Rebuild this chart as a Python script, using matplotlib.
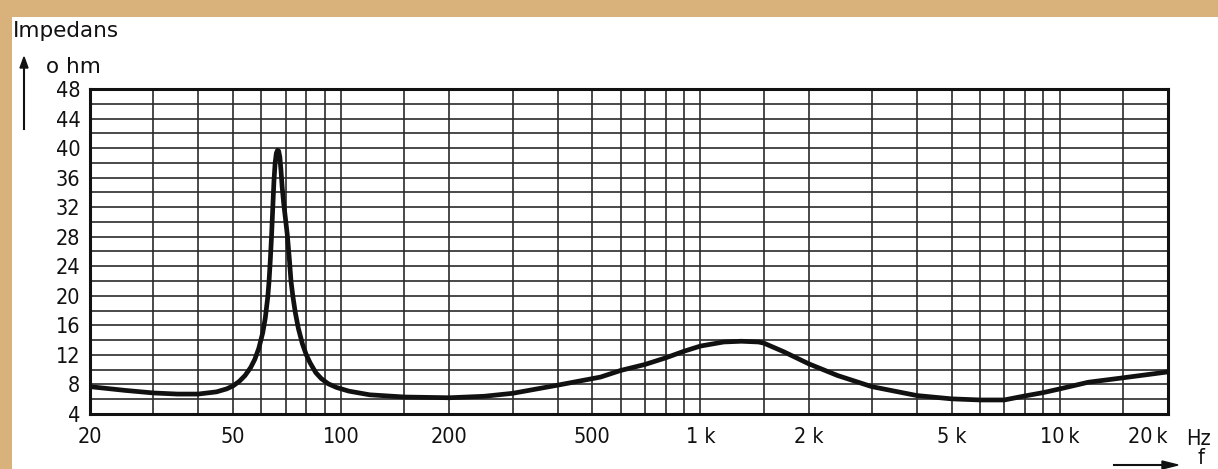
import matplotlib
matplotlib.use("Agg")
import matplotlib.pyplot as plt
from matplotlib.patches import Rectangle
from matplotlib.ticker import FixedLocator, NullFormatter

# impedance curve
freq_hz = [20, 25, 30, 35, 40, 45, 48, 50, 52, 54, 56, 57.5, 59, 60.5, 61.5, 62.5,
           63, 63.5, 64, 64.5, 65, 65.5, 66, 66.5, 67, 67.5, 68, 68.5, 69.2, 70,
           70.8, 71.8, 72.5, 73.4, 74.5, 76, 78, 80, 82, 85, 88, 92, 97, 105, 120,
           150, 200, 250, 300, 400, 527, 600, 700, 800, 900, 1000, 1160, 1300,
           1450, 1500, 1710, 2000, 2410, 3000, 4000, 5000, 6000, 7000, 8000, 9000,
           10000, 12000, 15000, 20000]
impedance_ohm = [7.7, 7.2, 6.85, 6.7, 6.7, 7.0, 7.4, 7.8, 8.4, 9.2, 10.3, 11.4, 12.9,
                 15.0, 17.0, 19.9, 22.0, 24.8, 28.0, 31.8, 35.5, 38.0, 39.3, 39.7,
                 39.6, 38.8, 37.0, 34.8, 32.5, 30.4, 28.3, 24.8, 22.0, 19.9, 17.8,
                 15.6, 13.5, 12.0, 10.9, 9.6, 8.8, 8.1, 7.6, 7.1, 6.6, 6.3, 6.2, 6.4,
                 6.8, 7.9, 9.0, 9.9, 10.7, 11.6, 12.5, 13.2, 13.75, 13.85, 13.75,
                 13.6, 12.4, 10.8, 9.2, 7.7, 6.5, 6.05, 5.9, 5.9, 6.45, 6.9, 7.4,
                 8.3, 8.9, 9.7]

x_label_pos = [20, 50, 100, 200, 500, 1000, 2000, 5000, 10000, 20000]
x_labels = ["20", "50", "100", "200", "500", "1 k", "2 k", "5 k", "10\u2009k", "20\u2009k"]
x_grid_extra = [30, 40, 60, 70, 80, 90, 150, 300, 400, 600, 700, 800, 900, 1500,
                3000, 4000, 6000, 7000, 8000, 9000, 15000]
y_label_pos = list(range(4, 49, 4))
y_grid_extra = list(range(6, 48, 4))

W, H = 1218, 469
fig = plt.figure(figsize=(W / 100, H / 100), dpi=100)
fig.patch.set_facecolor("#d9b27b")
fig.patches.append(Rectangle((12 / W, 0), 1, 1 - 17 / H, transform=fig.transFigure,
                             facecolor="white", edgecolor="none", zorder=-5))

ax = fig.add_axes([90 / W, 1 - 414 / H, (1168 - 90) / W, (414 - 89) / H])
ax.set_zorder(2)
ax.set_facecolor("white")
ax.set_xscale("log")
ax.set_xlim(20, 20000)
ax.set_ylim(4, 48)

font = dict(family="DejaVu Sans", fontstretch="condensed", fontsize=15.5, color="#111")

ax.set_xticks(x_label_pos)
ax.set_xticklabels(x_labels, **font)
ax.get_xticklabels()[-1].set_ha("right")
ax.xaxis.set_minor_locator(FixedLocator(x_grid_extra))
ax.xaxis.set_minor_formatter(NullFormatter())
ax.set_yticks(y_label_pos)
ax.set_yticklabels([str(v) for v in y_label_pos], **font)
ax.yaxis.set_minor_locator(FixedLocator(y_grid_extra))
ax.tick_params(which="both", length=0)
ax.tick_params(axis="x", pad=9)
ax.tick_params(axis="y", pad=7)

ax.grid(True, which="both", color="#2a2a2a", linewidth=1.2)
ax.set_axisbelow(True)
for s in ax.spines.values():
    s.set_linewidth(2.2)
    s.set_color("#111")

ax.plot(freq_hz, impedance_ohm, color="#111", linewidth=3.4,
        solid_capstyle="round", solid_joinstyle="round", clip_on=True)

fig.text(13 / W, 1 - 37 / H, "Impedans", ha="left", va="baseline",
         family="DejaVu Sans", fontsize=15.5, color="#111")
fig.text(46 / W, 1 - 73 / H, "o hm", ha="left", va="baseline",
         family="DejaVu Sans", fontsize=15.5, color="#111")
fig.text(1186 / W, 1 - 445 / H, "Hz", ha="left", va="baseline", **font)
fig.text(1197 / W, 1 / H, "f", ha="left", va="bottom", **font)

fig.add_artist(plt.Line2D([24 / W, 24 / W], [1 - 129 / H, 1 - 66 / H],
                          color="#111", linewidth=1.5))
fig.patches.append(plt.Polygon([[20 / W, 1 - 68 / H], [28 / W, 1 - 68 / H],
                                [24 / W, 1 - 57 / H]], closed=True,
                               transform=fig.transFigure, color="#111"))
fig.add_artist(plt.Line2D([1114 / W, 1165 / W], [1 - 465 / H, 1 - 465 / H],
                          color="#111", linewidth=1.5))
fig.patches.append(plt.Polygon([[1162 / W, 1 - 461 / H], [1162 / W, 1 - 469 / H],
                                [1178 / W, 1 - 465 / H]], closed=True,
                               transform=fig.transFigure, color="#111"))

fig.savefig("out.png", dpi=100, facecolor=fig.get_facecolor())
